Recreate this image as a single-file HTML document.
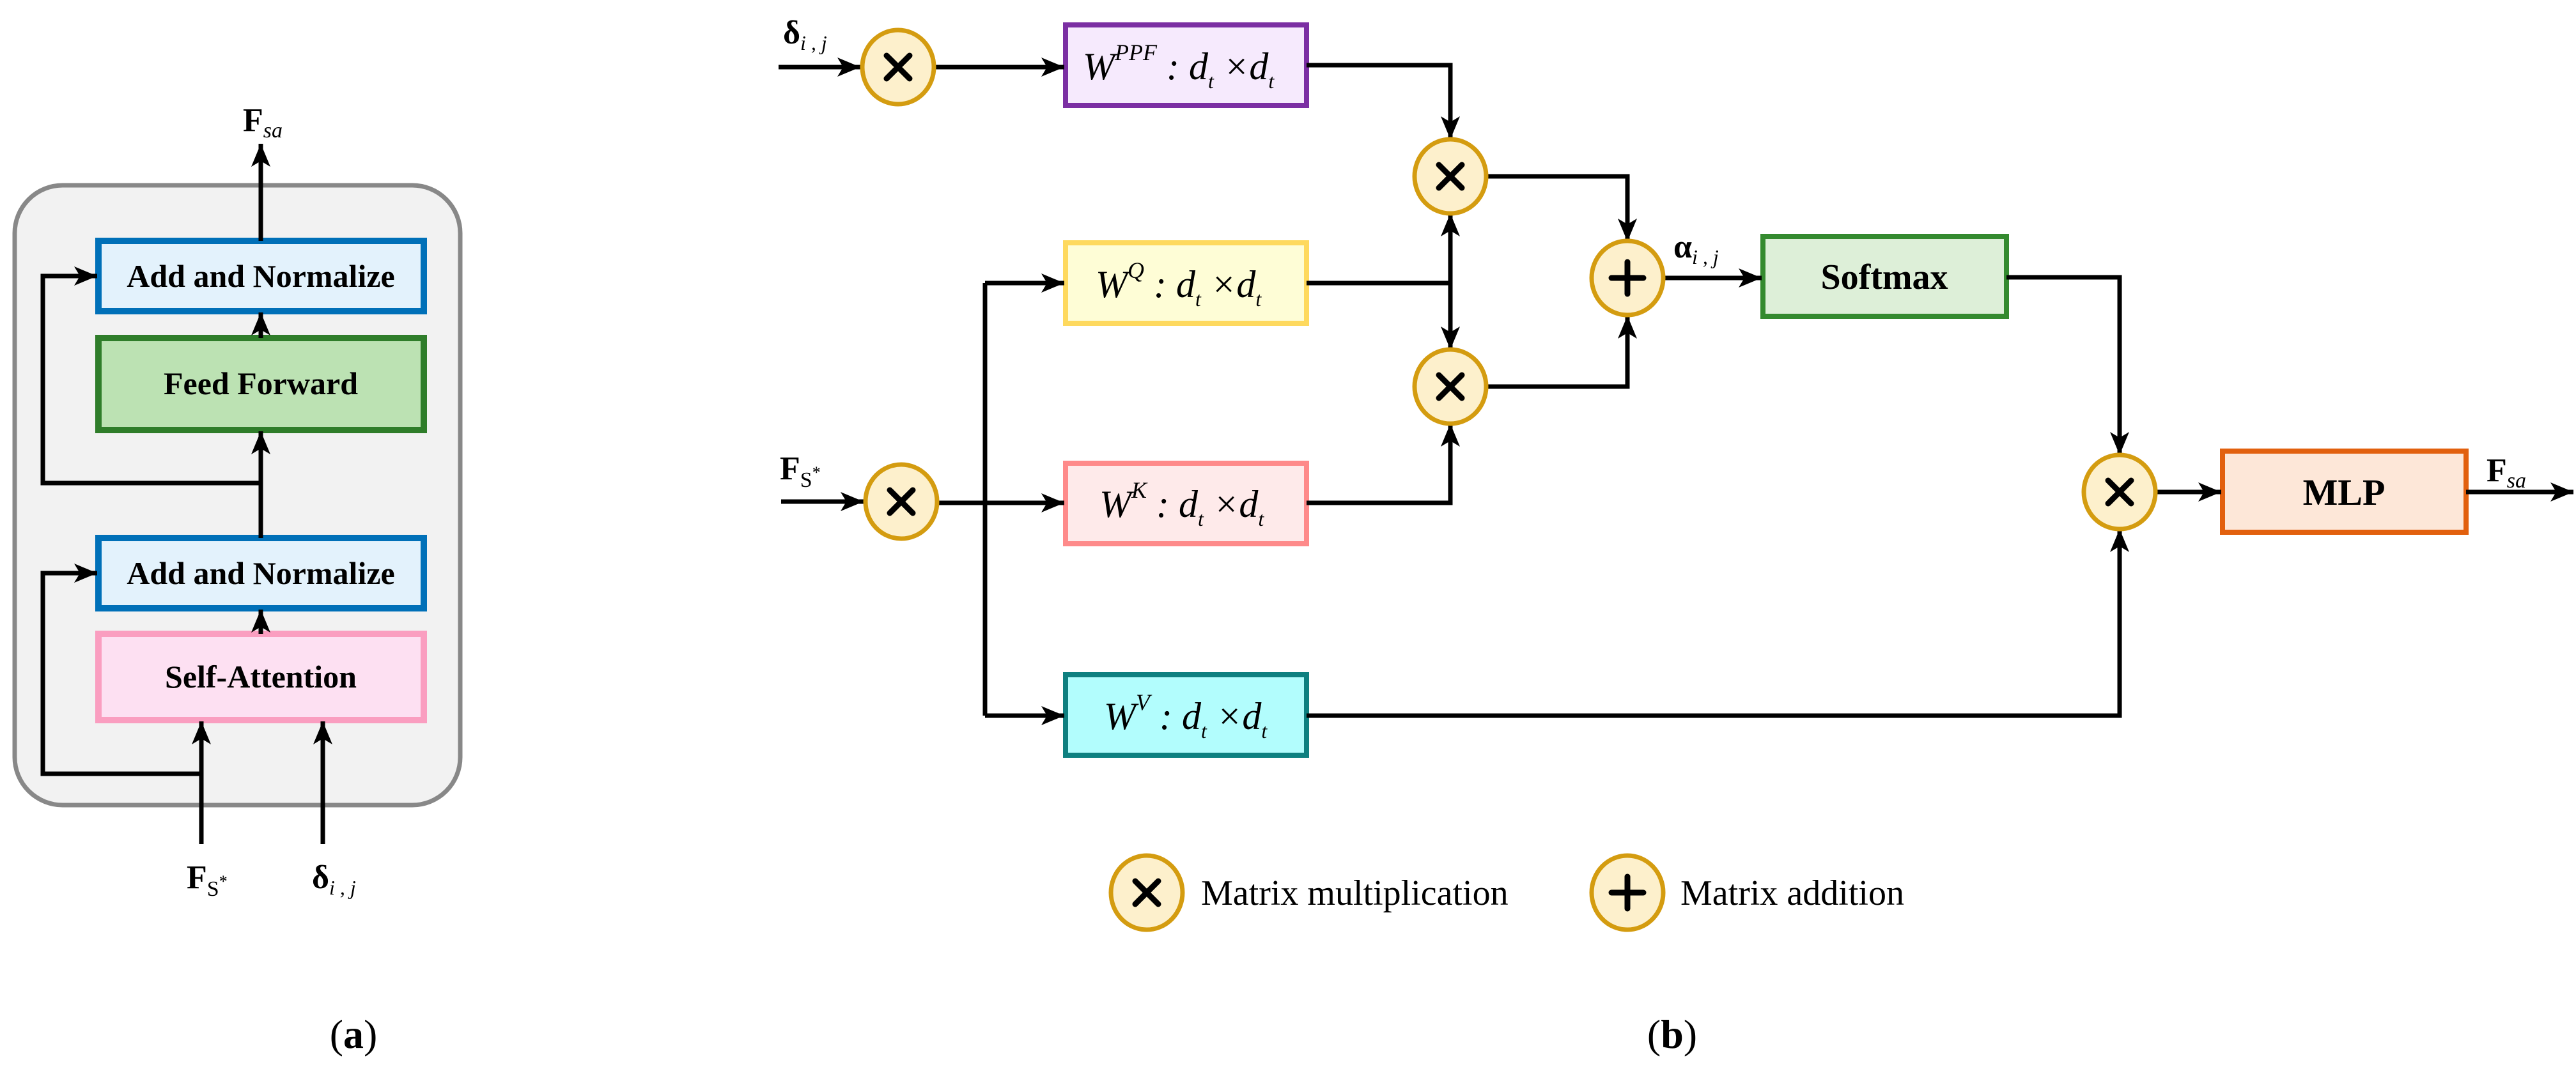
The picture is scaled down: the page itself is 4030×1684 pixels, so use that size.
<!DOCTYPE html>
<html><head><meta charset="utf-8"><style>
html,body{margin:0;padding:0;background:#fff;}
svg{display:block;}
text{font-family:"Liberation Serif",serif;}
.b{font-weight:bold;}
.i{font-style:italic;}
</style></head><body>
<svg width="4030" height="1684" viewBox="0 0 4030 1684" xmlns="http://www.w3.org/2000/svg">
<defs>
<marker id="ar" markerUnits="userSpaceOnUse" markerWidth="40" markerHeight="32" refX="36" refY="15" orient="auto">
<path d="M0,0 L36,15 L0,30 L9,15 z" fill="#000"/>
</marker>
</defs>
<!-- Panel a -->
<rect x="23" y="290" width="697" height="970" rx="75" fill="#f2f2f2" stroke="#888" stroke-width="7"/>
<rect x="154" y="377" width="509" height="110" fill="#e3f2fc" stroke="#0070b8" stroke-width="10"/>
<rect x="154" y="529" width="509" height="144" fill="#bce2b3" stroke="#2f7d2a" stroke-width="10"/>
<rect x="154" y="842" width="509" height="110" fill="#e3f2fc" stroke="#0070b8" stroke-width="10"/>
<rect x="154" y="992" width="509" height="135" fill="#fde0f2" stroke="#fa9ec0" stroke-width="10"/>
<g stroke="#000" stroke-width="7" fill="none" marker-end="url(#ar)">
<line x1="408" y1="377" x2="408" y2="225"/>
<line x1="408" y1="529" x2="408" y2="489"/>
<line x1="408" y1="842" x2="408" y2="675"/>
<line x1="408" y1="992" x2="408" y2="954"/>
<polyline points="408,756 67,756 67,432 152,432"/>
<polyline points="315,1211 67,1211 67,897 152,897"/>
<line x1="315" y1="1321" x2="315" y2="1129"/>
<line x1="505" y1="1321" x2="505" y2="1129"/>
</g>
<g font-size="50" class="b" text-anchor="middle">
<text x="408" y="449" class="b">Add and Normalize</text>
<text x="408" y="617" class="b">Feed Forward</text>
<text x="408" y="914" class="b">Add and Normalize</text>
<text x="408" y="1076" class="b">Self-Attention</text>
</g>
<text x="380" y="205" font-size="52" class="b">F<tspan class="i" font-weight="normal" font-size="34" dy="10">sa</tspan></text>
<text x="292" y="1390" font-size="52" class="b">F<tspan font-weight="normal" font-size="34" dy="12">S<tspan dy="-14" font-size="26">*</tspan></tspan></text>
<text x="488" y="1390" font-size="52" class="b">δ<tspan class="i" font-weight="normal" font-size="32" dy="10">i , j</tspan></text>
<text x="553" y="1640" font-size="64" text-anchor="middle">(<tspan class="b">a</tspan>)</text>

<!-- Panel b boxes -->
<rect x="1667" y="39" width="377" height="126" fill="#f6eafd" stroke="#7b2fa3" stroke-width="8"/>
<rect x="1667" y="380" width="377" height="126" fill="#fefdd6" stroke="#fed95e" stroke-width="8"/>
<rect x="1667" y="725" width="377" height="126" fill="#feeaea" stroke="#fe8a8a" stroke-width="8"/>
<rect x="1667" y="1056" width="377" height="126" fill="#b2fdfd" stroke="#0e8080" stroke-width="8"/>
<rect x="2758" y="370" width="381" height="125" fill="#ddefd8" stroke="#348a2f" stroke-width="8"/>
<rect x="3477" y="706" width="381" height="127" fill="#fde7d8" stroke="#e2600e" stroke-width="8"/>

<g stroke="#000" stroke-width="7" fill="none">
<line x1="1541" y1="443" x2="1541" y2="1120"/>
<line x1="1467" y1="787" x2="1541" y2="787"/>
</g>
<g stroke="#000" stroke-width="7" fill="none" marker-end="url(#ar)">
<line x1="1218" y1="105" x2="1346" y2="105"/>
<line x1="1462" y1="105" x2="1665" y2="105"/>
<line x1="1222" y1="785" x2="1351" y2="785"/>
<line x1="1541" y1="787" x2="1665" y2="787"/>
<line x1="1541" y1="443" x2="1665" y2="443"/>
<line x1="1541" y1="1120" x2="1665" y2="1120"/>
<polyline points="2044,102 2269,102 2269,218"/>
<polyline points="2044,443 2269,443 2269,334"/>
<polyline points="2269,443 2269,547"/>
<polyline points="2044,787 2269,787 2269,663"/>
<polyline points="2326,276 2546,276 2546,378"/>
<polyline points="2326,605 2546,605 2546,494"/>
<line x1="2603" y1="435" x2="2756" y2="435"/>
<polyline points="3139,434 3316,434 3316,712"/>
<polyline points="2044,1120 3316,1120 3316,828"/>
<line x1="3373" y1="770" x2="3475" y2="770"/>
<line x1="3858" y1="770" x2="4026" y2="770"/>
</g>

<!-- circles -->
<g fill="#fdf0cc" stroke="#d49c10" stroke-width="7">
<ellipse cx="1405" cy="105" rx="56" ry="58"/>
<ellipse cx="1410" cy="785" rx="56" ry="58"/>
<ellipse cx="2269" cy="276" rx="56" ry="58"/>
<ellipse cx="2269" cy="605" rx="56" ry="58"/>
<ellipse cx="2546" cy="435" rx="56" ry="58"/>
<ellipse cx="3316" cy="770" rx="56" ry="58"/>
<ellipse cx="1794" cy="1397" rx="56" ry="58"/>
<ellipse cx="2546" cy="1397" rx="56" ry="58"/>
</g>
<g stroke="#000" stroke-width="9" stroke-linecap="round">
<path d="M1387,87 L1423,123 M1423,87 L1387,123"/>
<path d="M1392,767 L1428,803 M1428,767 L1392,803"/>
<path d="M2251,258 L2287,294 M2287,258 L2251,294"/>
<path d="M2251,587 L2287,623 M2287,587 L2251,623"/>
<path d="M3298,752 L3334,788 M3334,752 L3298,788"/>
<path d="M1776,1379 L1812,1415 M1812,1379 L1776,1415"/>
<path d="M2546,410 L2546,460 M2521,435 L2571,435"/>
<path d="M2546,1372 L2546,1422 M2521,1397 L2571,1397"/>
</g>

<!-- b labels -->
<g font-size="60" class="i">
<text x="1694" y="124">W<tspan font-size="36" dy="-30">PPF</tspan><tspan dy="30"> : d</tspan><tspan font-size="32" dy="14">t</tspan><tspan dy="-14"> ×d</tspan><tspan font-size="32" dy="14">t</tspan></text>
<text x="1714" y="465">W<tspan font-size="36" dy="-30">Q</tspan><tspan dy="30"> : d</tspan><tspan font-size="32" dy="14">t</tspan><tspan dy="-14"> ×d</tspan><tspan font-size="32" dy="14">t</tspan></text>
<text x="1720" y="809">W<tspan font-size="36" dy="-30">K</tspan><tspan dy="30"> : d</tspan><tspan font-size="32" dy="14">t</tspan><tspan dy="-14"> ×d</tspan><tspan font-size="32" dy="14">t</tspan></text>
<text x="1727" y="1141">W<tspan font-size="36" dy="-30">V</tspan><tspan dy="30"> : d</tspan><tspan font-size="32" dy="14">t</tspan><tspan dy="-14"> ×d</tspan><tspan font-size="32" dy="14">t</tspan></text>
</g>
<text x="2948" y="452" font-size="56" class="b" text-anchor="middle">Softmax</text>
<text x="3667" y="790" font-size="58" class="b" text-anchor="middle">MLP</text>
<text x="1225" y="68" font-size="52" class="b">δ<tspan class="i" font-weight="normal" font-size="32" dy="10">i , j</tspan></text>
<text x="1220" y="750" font-size="52" class="b">F<tspan font-weight="normal" font-size="34" dy="12">S<tspan dy="-14" font-size="26">*</tspan></tspan></text>
<text x="2618" y="403" font-size="52" class="b">α<tspan class="i" font-weight="normal" font-size="32" dy="10">i , j</tspan></text>
<text x="3890" y="753" font-size="52" class="b">F<tspan class="i" font-weight="normal" font-size="34" dy="10">sa</tspan></text>
<text x="1879" y="1416" font-size="56">Matrix multiplication</text>
<text x="2629" y="1416" font-size="56">Matrix addition</text>
<text x="2616" y="1640" font-size="64" text-anchor="middle">(<tspan class="b">b</tspan>)</text>
</svg>
</body></html>
